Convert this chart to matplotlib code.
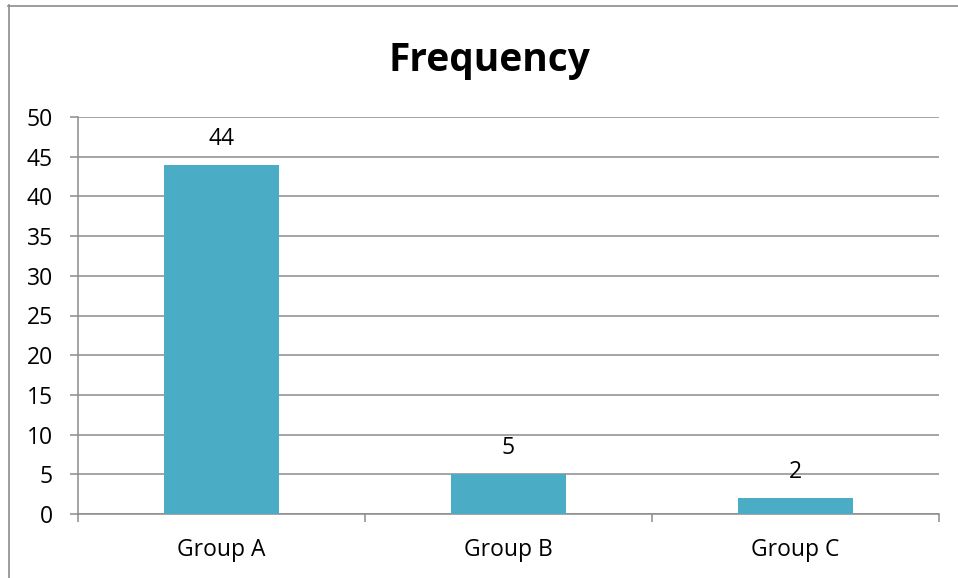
import matplotlib
matplotlib.use("Agg")
import matplotlib.pyplot as plt
from matplotlib.lines import Line2D

categories = ["Group A", "Group B", "Group C"]
values = [44, 5, 2]
y_ticks = [0, 5, 10, 15, 20, 25, 30, 35, 40, 45, 50]

W, H = 958, 578
DPI = 100
BAR_COLOR = "#4BACC6"
LINE_COLOR = "#8C8C8C"
FONT = "Open Sans"
LABEL_SIZE = 16.5

fig = plt.figure(figsize=(W / DPI, H / DPI), dpi=DPI)
fig.patch.set_facecolor("white")

# outer chart border (left and top edges)
fig.add_artist(Line2D([8.5 / W, 8.5 / W], [0, 1 - 5 / H], transform=fig.transFigure,
                      color=LINE_COLOR, lw=1.2))
fig.add_artist(Line2D([8 / W, 1], [1 - 5.5 / H, 1 - 5.5 / H], transform=fig.transFigure,
                      color=LINE_COLOR, lw=1.2))

ax = fig.add_axes([78 / W, (H - 514) / H, (939 - 78) / W, (514 - 117) / H])

x = list(range(len(categories)))
ax.bar(x, values, width=0.4, color=BAR_COLOR, zorder=3)

for xi, v in zip(x, values):
    ax.annotate(str(v), (xi, v), xytext=(0, 10), textcoords="offset points",
                ha="center", va="bottom", fontsize=LABEL_SIZE, family=FONT, color="black")

ax.set_xlim(-0.5, len(categories) - 0.5)
ax.set_ylim(0, 50)
ax.set_yticks(y_ticks)
ax.set_yticklabels([str(t) for t in y_ticks], fontsize=LABEL_SIZE, family=FONT)

ax.set_xticks([i - 0.5 for i in range(len(categories) + 1)])
ax.set_xticklabels([])
ax.set_xticks(x, minor=True)
ax.set_xticklabels(categories, minor=True, fontsize=LABEL_SIZE, family=FONT)
ax.tick_params(axis="x", which="major", direction="out", length=6, width=1.1, color=LINE_COLOR)
ax.tick_params(axis="x", which="minor", length=0, pad=17)
ax.tick_params(axis="y", direction="out", length=6, width=1.1, color=LINE_COLOR, pad=12)

ax.yaxis.grid(True, color=LINE_COLOR, lw=1.1, zorder=0)
ax.set_axisbelow(True)

for side in ("top", "right"):
    ax.spines[side].set_visible(False)
for side in ("left", "bottom"):
    ax.spines[side].set_color(LINE_COLOR)
    ax.spines[side].set_linewidth(1.1)

fig.text(489 / W, 1 - 60 / H, "Frequency", ha="center", va="center",
         fontsize=28, fontweight="bold", family=FONT)

fig.savefig("out.png", dpi=DPI)
